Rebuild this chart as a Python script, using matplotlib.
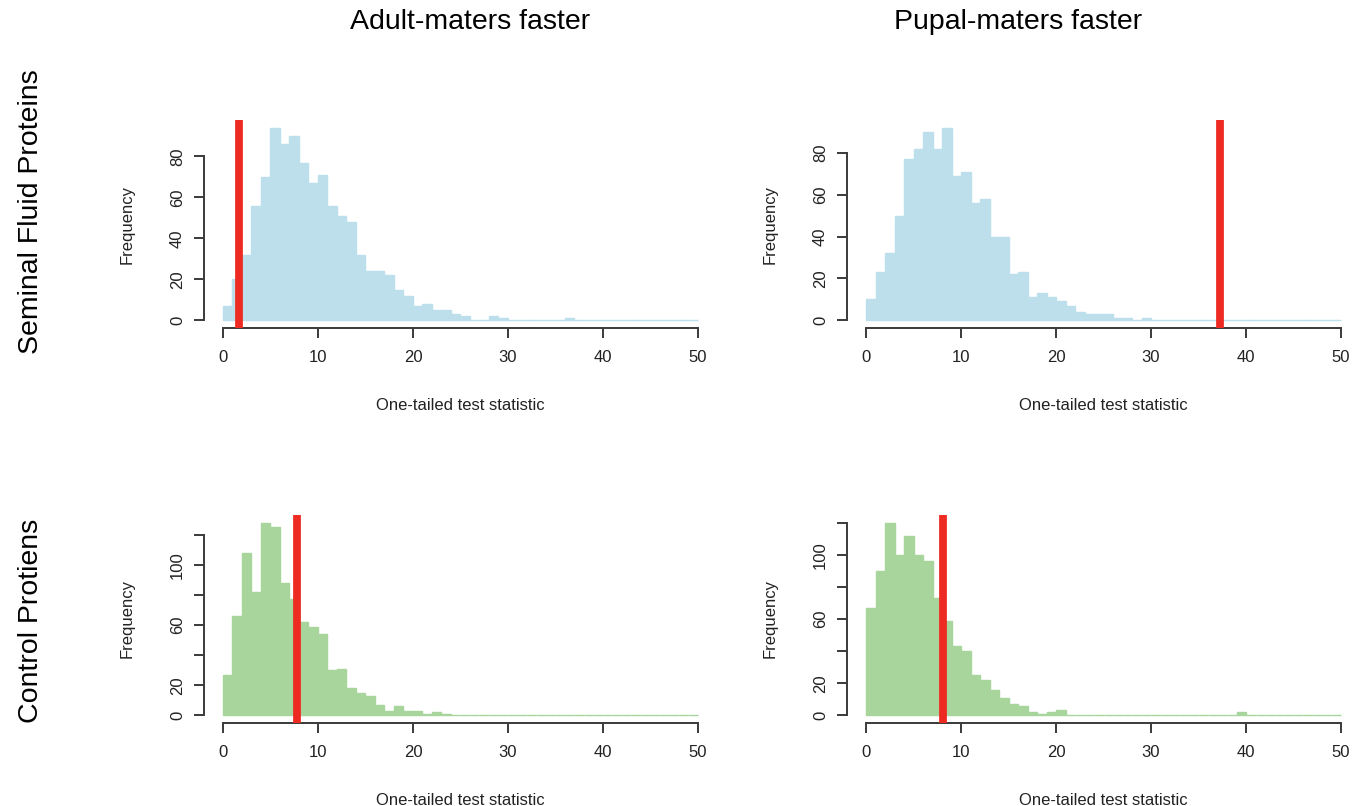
import matplotlib
matplotlib.use("Agg")
import matplotlib.pyplot as plt
import numpy as np

plt.rcParams["font.family"] = ["Liberation Sans", "DejaVu Sans"]

# ── Data ──────────────────────────────────────────────────────────────────────
bin_edges = list(range(0, 51))   # width-1 bins from 0 to 50

sfp_adult = [7, 20, 32, 56, 70, 94, 86, 90, 77, 67, 71, 56, 51, 48, 32, 24, 24, 22, 15, 12,
             7, 8, 5, 5, 3, 2, 0, 0, 2, 1, 0, 0, 0, 0, 0, 0, 1, 0, 0, 0,
             0, 0, 0, 0, 0, 0, 0, 0, 0, 0]
sfp_pupal = [10, 23, 32, 50, 77, 82, 90, 82, 92, 69, 71, 56, 58, 40, 40, 22, 23, 11, 13, 11,
             9, 7, 4, 3, 3, 3, 1, 1, 0, 1, 0, 0, 0, 0, 0, 0, 0, 0, 0, 0,
             0, 0, 0, 0, 0, 0, 0, 0, 0, 0]
ctrl_adult = [27, 66, 108, 82, 128, 125, 88, 77, 62, 59, 54, 30, 31, 18, 15, 13, 7, 3, 6, 3,
              3, 1, 2, 1, 0, 0, 0, 0, 0, 0, 0, 0, 0, 0, 0, 0, 0, 0, 0, 0,
              0, 0, 0, 0, 0, 0, 0, 0, 0, 0]
ctrl_pupal = [67, 90, 120, 100, 112, 100, 96, 73, 59, 43, 40, 25, 22, 16, 11, 7, 6, 2, 1, 2,
              3, 0, 0, 0, 0, 0, 0, 0, 0, 0, 0, 0, 0, 0, 0, 0, 0, 0, 0, 2,
              0, 0, 0, 0, 0, 0, 0, 0, 0, 0]

observed = {"sfp_adult": 1.65, "sfp_pupal": 37.3, "ctrl_adult": 7.8, "ctrl_pupal": 8.1}

col_titles = ["Adult-maters faster", "Pupal-maters faster"]
row_titles = ["Seminal Fluid Proteins", "Control Protiens"]

x_ticks = [0, 10, 20, 30, 40, 50]
sfp_yticks = [0, 20, 40, 60, 80]
sfp_ylabels = ["0", "20", "40", "60", "80"]
ctrl_yticks = [0, 20, 40, 60, 80, 100, 120]
ctrl_ylabels = ["0", "20", "", "60", "", "100", ""]

BLUE = "#bcdfeb"
GREEN = "#a8d59b"
RED = "#ee2b23"
AXIS = "#3a3a3a"
TEXT = "#222222"

W, H = 1355, 806


def draw_hist(ax, counts, colour, obs, yticks, ylabels):
    edges = np.array(bin_edges)
    ax.bar(edges[:-1], counts, width=1.0, align="edge",
           color=colour, edgecolor=colour, linewidth=1.0, zorder=1)
    ax.axvline(obs, color=RED, linewidth=5.6, zorder=3)

    ymax = max(counts)
    ax.set_xlim(-2, 52)
    ax.set_ylim(-0.04 * ymax, 1.04 * ymax)

    for s in ("top", "right"):
        ax.spines[s].set_visible(False)
    for s in ("left", "bottom"):
        ax.spines[s].set_color(AXIS)
        ax.spines[s].set_linewidth(1.4)
    ax.spines["bottom"].set_bounds(x_ticks[0], x_ticks[-1])
    ax.spines["left"].set_bounds(yticks[0], yticks[-1])

    ax.set_xticks(x_ticks)
    ax.set_yticks(yticks)
    ax.set_yticklabels(ylabels, rotation=90, va="center")
    ax.tick_params(axis="both", colors=AXIS, labelcolor=TEXT,
                   length=7.2, width=1.4, labelsize=12)
    ax.tick_params(axis="x", pad=8.5)
    ax.tick_params(axis="y", pad=6.5)

    ax.set_xlabel("One-tailed test statistic", fontsize=12, color=TEXT)
    ax.xaxis.set_label_coords(0.5, -0.337)
    ax.set_ylabel("Frequency", fontsize=12, color=TEXT)
    ax.yaxis.set_label_coords(-0.1345, 0.5)


fig = plt.figure(figsize=(W / 100, H / 100), dpi=100, facecolor="white")

# axes boxes in pixels: left, top, right, bottom
boxes = [
    (204, 120, 717, 328),
    (847, 120, 1360, 328),
    (204, 515, 717, 723),
    (847, 515, 1360, 723),
]
panels = [
    (sfp_adult, BLUE, observed["sfp_adult"], sfp_yticks, sfp_ylabels),
    (sfp_pupal, BLUE, observed["sfp_pupal"], sfp_yticks, sfp_ylabels),
    (ctrl_adult, GREEN, observed["ctrl_adult"], ctrl_yticks, ctrl_ylabels),
    (ctrl_pupal, GREEN, observed["ctrl_pupal"], ctrl_yticks, ctrl_ylabels),
]

for (l, t, r, b), args in zip(boxes, panels):
    ax = fig.add_axes([l / W, 1 - b / H, (r - l) / W, (b - t) / H])
    draw_hist(ax, *args)

# column and row titles
for x, txt in zip([470, 1018], col_titles):
    fig.text(x / W, 1 - 22 / H, txt, ha="center", va="center", fontsize=20.5)
for y, txt in zip([212, 621], row_titles):
    fig.text(31 / W, 1 - y / H, txt, ha="center", va="center",
             rotation=90, fontsize=20.5)

fig.savefig("out.png", dpi=100, facecolor="white")
